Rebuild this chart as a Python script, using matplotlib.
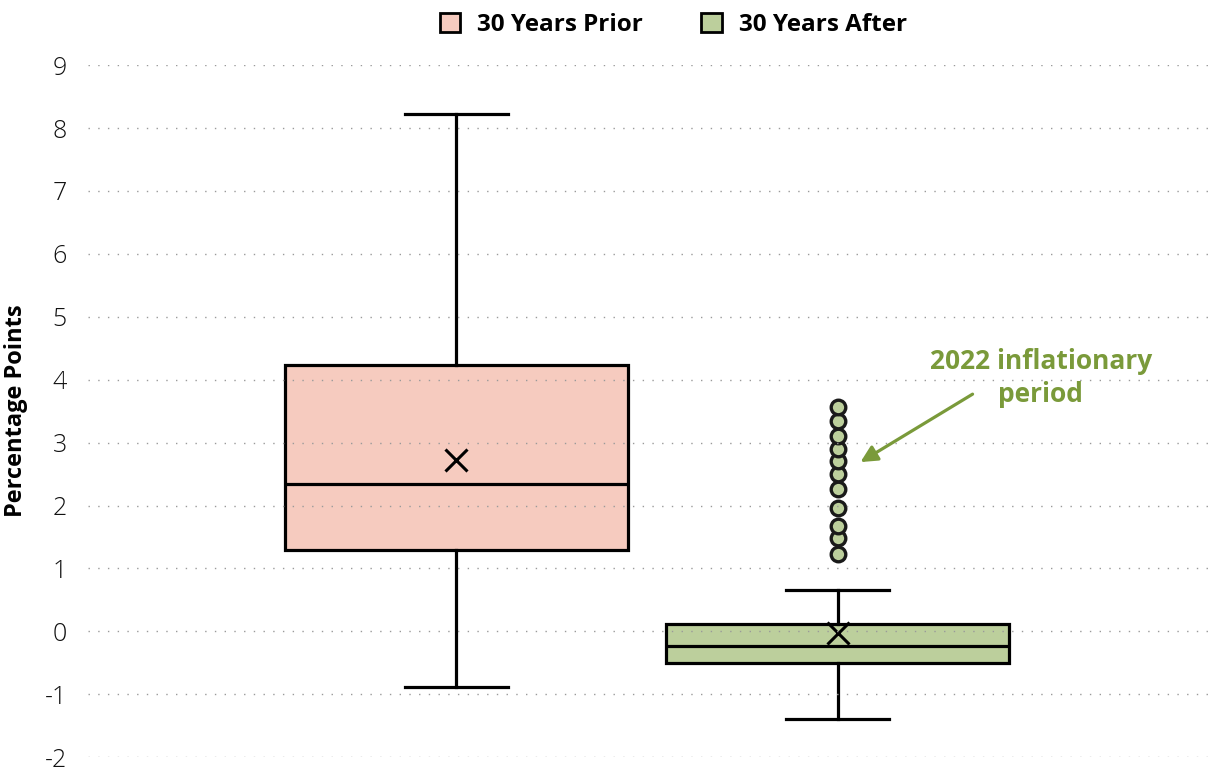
import matplotlib.pyplot as plt
from matplotlib.patches import Patch

plt.rcParams['font.family'] = ['Open Sans', 'DejaVu Sans']
plt.rcParams['axes.unicode_minus'] = False

# box statistics
labels = ["30 Years Prior", "30 Years After"]
whislo = [-0.89, -1.39]
q1 = [1.30, -0.51]
med = [2.34, -0.24]
q3 = [4.23, 0.11]
whishi = [8.22, 0.66]
means = [2.72, -0.02]
fliers_prior = []
fliers_after = [1.23, 1.48, 1.67, 1.96, 2.26, 2.50, 2.70, 2.90, 3.11, 3.34, 3.57]

fills = ["#f6cbbf", "#bccf9c"]
green_txt = "#7a9a3a"

stats = []
fl = [fliers_prior, fliers_after]
for i in range(2):
    stats.append(dict(label=labels[i], whislo=whislo[i], q1=q1[i], med=med[i],
                      q3=q3[i], whishi=whishi[i], mean=means[i], fliers=fl[i]))

fig = plt.figure(figsize=(12.2, 7.75), dpi=100)
ax = fig.add_axes([0.072, 0.023, 0.924, 0.893])

lw = 2.3
bp = ax.bxp(stats, positions=[1, 2], widths=0.9, capwidths=0.27,
            patch_artist=True, showmeans=True, showfliers=True,
            boxprops=dict(linewidth=lw, edgecolor="black"),
            whiskerprops=dict(linewidth=lw, color="black"),
            capprops=dict(linewidth=lw, color="black"),
            medianprops=dict(linewidth=lw, color="black"),
            meanprops=dict(marker="x", markersize=16, markeredgecolor="black",
                           markeredgewidth=2.2),
            flierprops=dict(marker="o", markersize=10.5, markerfacecolor=fills[1],
                            markeredgecolor="#1a1a1a", markeredgewidth=2.4))
for patch, c in zip(bp["boxes"], fills):
    patch.set_facecolor(c)
for i, f in enumerate(bp["fliers"]):
    f.set_markerfacecolor(fills[i])

ax.set_xlim(0.034, 2.99)
ax.set_ylim(-2, 9)
ax.set_yticks(range(-2, 10))
ax.set_xticks([])
ax.grid(axis="y", color="#9a9a9a", linewidth=1, linestyle=(0, (1, 6)), zorder=5)
ax.set_axisbelow(False)
for s in ax.spines.values():
    s.set_visible(False)
ax.tick_params(axis="y", length=0, pad=15, labelsize=18, labelcolor="#111111")
for t in ax.get_yticklabels():
    t.set_fontweight("light")
ax.set_ylabel("Percentage Points", fontsize=17, fontweight="bold", labelpad=12)

ax.text(2.533, 4.03, "2022 inflationary\nperiod", ha="center", va="center",
        fontsize=19, fontweight="bold", color=green_txt, linespacing=1.3)
ax.annotate("", xy=(2.06, 2.69), xytext=(2.354, 3.77),
            arrowprops=dict(arrowstyle="-|>,head_length=1.0,head_width=0.5",
                            color=green_txt, lw=2.3, shrinkA=0, shrinkB=0))

handles = [Patch(facecolor=c, edgecolor="black", linewidth=2) for c in fills]
fig.legend(handles, labels, loc="upper center", bbox_to_anchor=(0.552, 1.012), ncol=2,
           frameon=False, prop=dict(size=17.5, weight="bold"), handlelength=0.85,
           handleheight=0.85, columnspacing=2.4, handletextpad=0.7)

fig.savefig("out.png", dpi=100)
